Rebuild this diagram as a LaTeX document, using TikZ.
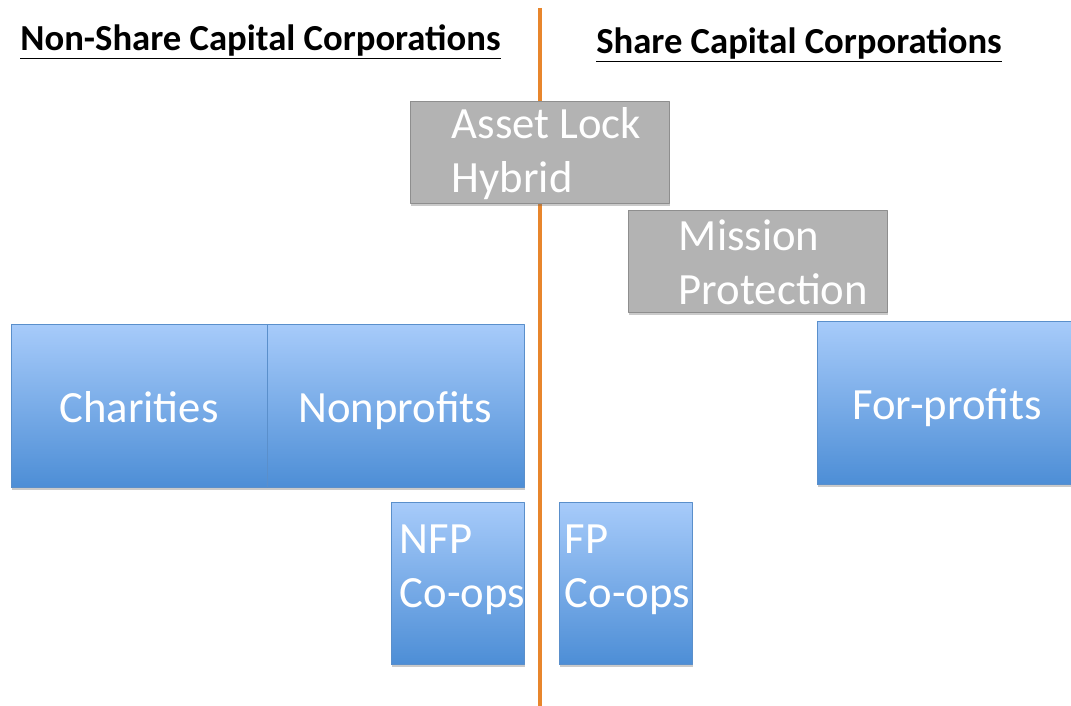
\documentclass[tikz,border=0pt]{standalone}
\usepackage{fontspec}
\setmainfont{Carlito}
\usetikzlibrary{shadows}
\definecolor{boxtop}{HTML}{A7CBFA}
\definecolor{boxbot}{HTML}{4D8ED6}
\definecolor{boxline}{HTML}{5A8FCB}
\definecolor{grfill}{HTML}{B3B3B3}
\definecolor{grline}{HTML}{8E8E8E}
\definecolor{divider}{HTML}{E8862C}
\tikzset{
  boxfont/.style={font=\fontsize{33.5}{40.5}\selectfont},
  softshadow/.style={drop shadow={shadow xshift=0.8pt, shadow yshift=-2.2pt, opacity=0.35, fill=black!60}},
  blubox/.style={rectangle, draw=boxline, line width=0.6pt, top color=boxtop, bottom color=boxbot,
    softshadow, text=white, boxfont, inner sep=0pt, text height=31pt, text depth=6pt},
  grybox/.style={rectangle, draw=grline, line width=0.6pt, fill=grfill, softshadow, inner sep=0pt},
  boxtxt/.style={text=white, boxfont, align=left, anchor=west, inner sep=0pt},
  header/.style={font=\bfseries\fontsize{27.5}{33}\selectfont, inner sep=0pt}
}
\begin{document}
\begin{tikzpicture}[x=0.75pt, y=-0.75pt, line join=round]
  \clip (0,0) rectangle (1071,706);
  % headers
  \node[header] (nonshare) at (260.5,42) {\underline{Non-Share Capital Corporations}};
  \node[header] (share) at (799,45) {\underline{Share Capital Corporations}};
  % divider
  \path (540,8) coordinate (divtop) (540,706) coordinate (divbot);
  \draw[divider, line width=2.3pt] (divtop) -- (divbot);
  % grey boxes
  \node[grybox, minimum width=194.25pt, minimum height=76.5pt] (asset) at (539.5,152) {};
  \node[boxtxt] (assettxt) at ([xshift=31.5pt, yshift=-1.5pt]asset.west) {Asset Lock\\Hybrid};
  \node[grybox, minimum width=194.25pt, minimum height=76.5pt] (mission) at (757.5,261) {};
  \node[boxtxt] (missiontxt) at ([xshift=38.25pt, yshift=-1pt]mission.west) {Mission\\Protection};
  % blue boxes
  \node[blubox, minimum width=192pt, minimum height=122.25pt] (charities) at (139,405.5) {Charities};
  \node[blubox, minimum width=192.75pt, minimum height=122.25pt] (nonprofits) at (395.5,405.5) {Nonprofits};
  \node[blubox, minimum width=195pt, minimum height=122.25pt] (forprofits) at (947,402.5) {For-profits};
  \node[blubox, minimum width=99.75pt, minimum height=121.5pt] (nfp) at (457.5,583) {};
  \node[boxtxt] (nfptxt) at ([xshift=6.75pt, yshift=9.75pt]nfp.west) {NFP\\Co-ops};
  \node[blubox, minimum width=99.75pt, minimum height=121.5pt] (fp) at (625.5,583) {};
  \node[boxtxt] (fptxt) at ([xshift=4.5pt, yshift=9.75pt]fp.west) {FP\\Co-ops};
\end{tikzpicture}
\end{document}
